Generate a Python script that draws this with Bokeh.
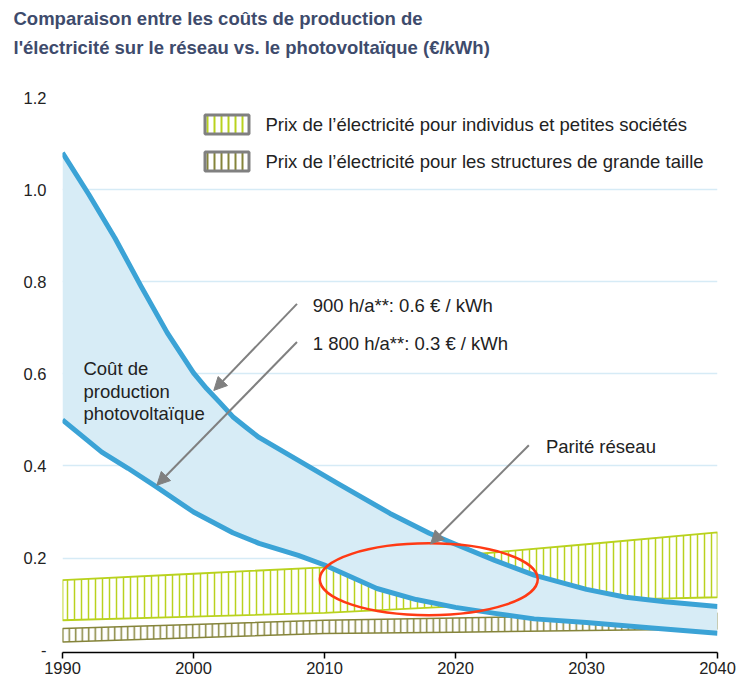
from bokeh.plotting import figure
from bokeh.models import (Range1d, FixedTicker, Arrow, NormalHead, Label, BoxAnnotation, Title)
from bokeh.core.properties import value
from bokeh.embed import file_html
from bokeh.resources import INLINE

# ---------------- data ----------------
years_pv_900 = [1990, 1992, 1994, 1996, 1998, 2000, 2001, 2002, 2003, 2004, 2005, 2008, 2011, 2015, 2018, 2020, 2023, 2026, 2030, 2033, 2036, 2040]
cost_pv_900 = [1.08, 0.99, 0.895, 0.79, 0.689, 0.602, 0.568, 0.538, 0.507, 0.484, 0.462, 0.412, 0.362, 0.297, 0.254, 0.23, 0.195, 0.163, 0.132, 0.115, 0.105, 0.095]

years_pv_1800 = [1990, 1993, 1995, 1997, 2000, 2003, 2005, 2008, 2010, 2014, 2017, 2020, 2023, 2026, 2030, 2035, 2040]
cost_pv_1800 = [0.50, 0.43, 0.395, 0.358, 0.30, 0.255, 0.232, 0.206, 0.185, 0.134, 0.11, 0.093, 0.08, 0.068, 0.06, 0.048, 0.037]

years_price = [1990, 2000, 2010, 2020, 2030, 2040]
small_low = [0.065, 0.073, 0.081, 0.095, 0.108, 0.115]
small_high = [0.152, 0.166, 0.180, 0.205, 0.230, 0.256]
large_low = [0.018, 0.027, 0.036, 0.039, 0.043, 0.046]
large_high = [0.047, 0.056, 0.065, 0.070, 0.075, 0.080]

x_ticks = [1990, 2000, 2010, 2020, 2030, 2040]
y_ticks = [0, 0.2, 0.4, 0.6, 0.8, 1.0, 1.2]
y_labels = ["-", "0.2", "0.4", "0.6", "0.8", "1.0", "1.2"]

title_lines = ["Comparaison entre les coûts de production de",
               "l'électricité sur le réseau vs. le photovoltaïque (€/kWh)"]
legend_labels = ["Prix de l\u2019électricité pour individus et petites sociétés",
                 "Prix de l\u2019électricité pour les structures de grande taille"]

pv_label_x = [1991.6, 1991.6, 1991.6]
pv_label_y = [0.612, 0.5625, 0.513]
pv_label_text = ["Coût de", "production", "photovoltaïque"]

note_x = [2009.1, 2009.1, 2026.9]
note_y = [0.748, 0.665, 0.4425]
note_text = ["900 h/a**: 0.6 € / kWh", "1 800 h/a**: 0.3 € / kWh", "Parité réseau"]

arrow_x_start = [2007.9, 2007.9, 2025.6]
arrow_y_start = [0.752, 0.669, 0.445]
arrow_x_end = [2001.55, 1997.2, 2018.1]
arrow_y_end = [0.564, 0.358, 0.231]

ellipse_x, ellipse_y, ellipse_w, ellipse_h = 2017.96, 0.154, 16.64, 0.156

# ---------------- style / layout ----------------
FONT = "Liberation Sans"
BLUE = "#3ba3d6"
BLUE_FILL = "#d7ecf6"
GREEN = "#b9d21e"
OLIVE = "#85843a"
GRAY = "#808080"
TEXT = "#222222"
TITLE_COLOR = "#3e4b6c"

W, H = 737, 683
BORDER_TOP, BORDER_BOTTOM = 97, 31
FRAME_BOTTOM = H - BORDER_BOTTOM


def sy(canvas_y):
    """canvas y (from top) -> screen units measured from the frame bottom"""
    return FRAME_BOTTOM - canvas_y


p = figure(width=W, height=H, output_backend="svg", toolbar_location=None,
           x_range=Range1d(1990, 2040), y_range=Range1d(-0.005, 1.2),
           min_border_left=62, min_border_right=20, min_border_top=BORDER_TOP,
           min_border_bottom=BORDER_BOTTOM, title=title_lines[0])
p.outline_line_color = None
p.background_fill_color = "white"

title_style = dict(text_font=FONT, text_font_style="bold", text_font_size="18.5px",
                   text_color=TITLE_COLOR, align="left", offset=-49)
for k, v in title_style.items():
    setattr(p.title, k, v)
p.title.standoff = 6
# panel items: first added sits closest to the plot frame
p.add_layout(Title(text=" ", standoff=14, **title_style), "above")
p.add_layout(Title(text=title_lines[1], standoff=6, **title_style), "above")

# axes
p.xaxis.ticker = FixedTicker(ticks=x_ticks)
p.xaxis.minor_tick_line_color = None
p.xaxis.major_tick_in = 0
p.xaxis.major_tick_out = 6
p.xaxis.major_tick_line_width = 1.5
p.xaxis.axis_line_width = 1.5
p.xaxis.axis_line_color = "black"
p.xaxis.major_tick_line_color = "black"
p.xaxis.major_label_text_font = FONT
p.xaxis.major_label_text_font_size = "16.5px"
p.xaxis.major_label_text_color = TEXT
p.xaxis.major_label_standoff = 3

p.yaxis.ticker = FixedTicker(ticks=y_ticks)
p.yaxis.major_label_overrides = dict(zip(y_ticks, y_labels))
p.yaxis.axis_line_color = None
p.yaxis.major_tick_line_color = None
p.yaxis.minor_tick_line_color = None
p.yaxis.major_tick_out = 0
p.yaxis.major_tick_in = 0
p.yaxis.major_label_text_font = FONT
p.yaxis.major_label_text_font_size = "16.5px"
p.yaxis.major_label_text_color = TEXT
p.yaxis.major_label_standoff = 16

p.xgrid.grid_line_color = None
p.ygrid.ticker = FixedTicker(ticks=y_ticks[1:])
p.ygrid.grid_line_color = "#d6ebf6"
p.ygrid.grid_line_width = 1.5

# price bands (hatched)
p.patch(x=years_price + years_price[::-1], y=large_high + large_low[::-1],
        fill_color="white", line_color=OLIVE, line_width=1.5,
        hatch_pattern="|", hatch_color=OLIVE, hatch_scale=6.5, hatch_weight=1.5)
p.patch(x=years_price + years_price[::-1], y=small_high + small_low[::-1],
        fill_color="white", line_color=GREEN, line_width=1.8,
        hatch_pattern="|", hatch_color=GREEN, hatch_scale=7, hatch_weight=1.5)

# PV cost band
p.patch(x=years_pv_900 + years_pv_1800[::-1], y=cost_pv_900 + cost_pv_1800[::-1],
        fill_color=BLUE_FILL, line_color=None)
p.line(years_pv_900, cost_pv_900, line_color=BLUE, line_width=5, line_join="round")
p.line(years_pv_1800, cost_pv_1800, line_color=BLUE, line_width=5, line_join="round")

# grid parity ellipse
p.ellipse(x=[ellipse_x], y=[ellipse_y], width=[ellipse_w], height=[ellipse_h],
          fill_color=None, line_color="#ff3a14", line_width=2.5)

# arrows
for xs, ys, xe, ye in zip(arrow_x_start, arrow_y_start, arrow_x_end, arrow_y_end):
    p.add_layout(Arrow(end=NormalHead(size=13, fill_color=GRAY, line_color=GRAY),
                       x_start=xs, y_start=ys, x_end=xe, y_end=ye,
                       line_color=GRAY, line_width=2))

# texts
p.text(x=pv_label_x, y=pv_label_y, text=pv_label_text, text_font=value(FONT),
       text_font_size="18.5px", text_baseline="middle", text_color=TEXT)
p.text(x=note_x, y=note_y, text=note_text, text_font=value(FONT),
       text_font_size="18.5px", text_baseline="middle", text_color=TEXT)

# legend: hatched swatches + labels
swatch_hatch = [GREEN, OLIVE]
swatch_top = [113, 150]       # canvas y of the swatch outer top edge
for col, top, lab in zip(swatch_hatch, swatch_top, legend_labels):
    p.add_layout(BoxAnnotation(left=142.5, right=186.5, top=sy(top + 1.5), bottom=sy(top + 20.5),
                               left_units="screen", right_units="screen",
                               top_units="screen", bottom_units="screen",
                               fill_color="white", fill_alpha=1,
                               line_color=GRAY, line_width=3, line_alpha=1,
                               hatch_pattern="|", hatch_color=col, hatch_scale=7,
                               hatch_weight=2, level="overlay"))
    p.add_layout(Label(x=203, y=sy(top + 11), x_units="screen", y_units="screen", text=lab,
                       text_font=FONT, text_font_size="18.5px", text_color=TEXT,
                       text_baseline="middle", text_align="left"))

open("out.html", "w").write(file_html(p, INLINE))
